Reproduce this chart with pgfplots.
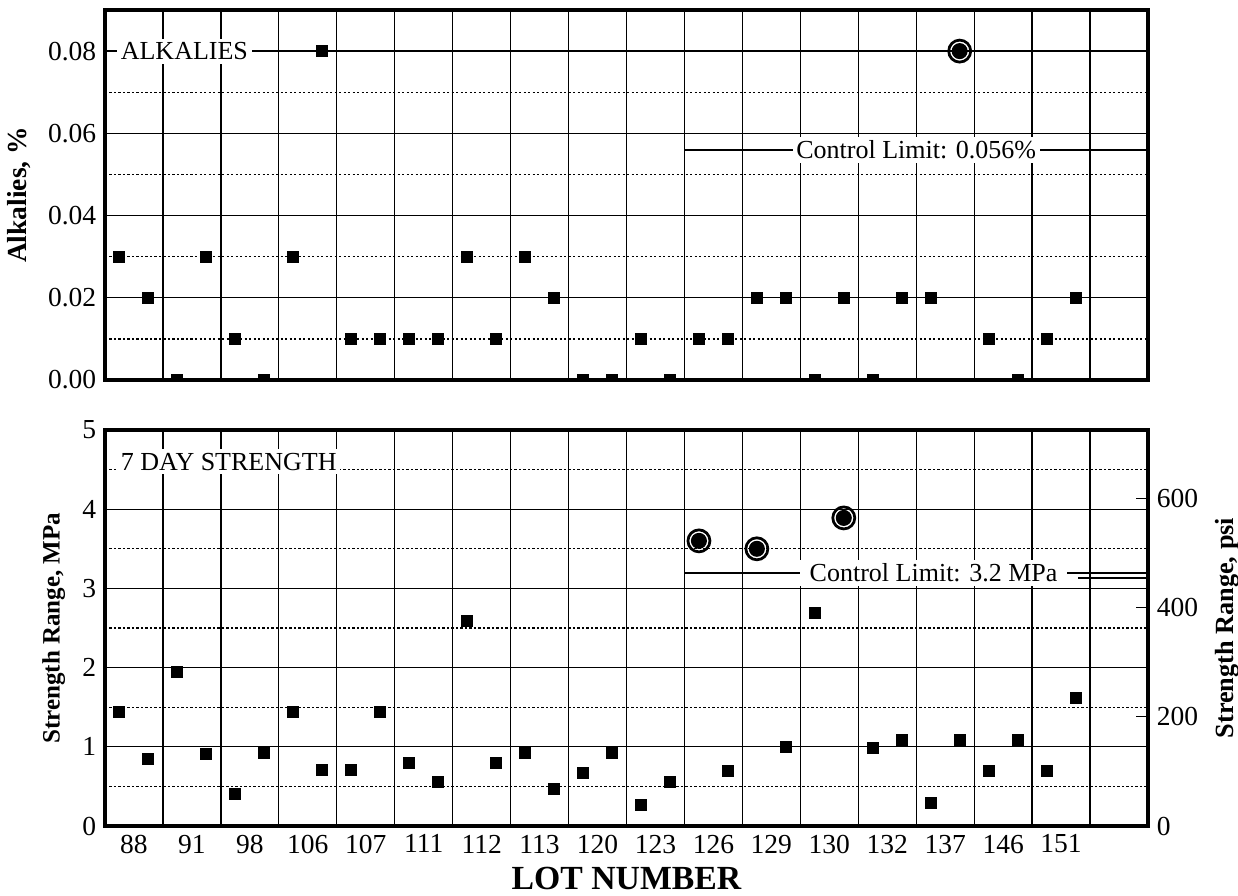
\documentclass[border=0pt]{standalone}
\usepackage{fontspec}
\setmainfont{Liberation Serif}
\usepackage{pgfplots}
\pgfplotsset{compat=1.18}

\pgfplotsset{
  panel/.style={
    scale only axis, width=417.2pt,
    xmin=0, xmax=18,
    axis line style={line width=1.4pt},
    major tick length=0pt, minor tick length=0pt,
    xtick={0.5,1.5,...,16.5},
    minor xtick={1,2,...,17},
    xminorgrids=true, ymajorgrids=true, yminorgrids=true,
    minor x grid style={black, line width=0.5pt},
    major y grid style={black, line width=0.5pt},
    minor y grid style={black, line width=0.55pt, dash pattern=on 0.9pt off 0.9pt},
    /pgf/number format/assume math mode=true,
    tick label style={font=\fontsize{11}{13}\selectfont},
    label style={font=\fontsize{10}{12}\selectfont\bfseries},
    scaled y ticks=false,
    clip marker paths=true,
  },
  sq/.style={only marks, mark=square*, mark size=2.2pt, black},
  ring/.style={only marks, mark=o, mark size=4.4pt, black, line width=1.1pt},
  dot/.style={only marks, mark=*, mark size=3.0pt, black},
}
\tikzset{lbl/.style={fill=white, inner sep=1.5pt, font=\fontsize{10.4}{12}\selectfont}}

\begin{document}
\begin{tikzpicture}
\useasboundingbox (-42pt,-354.4pt) rectangle (453.2pt,4pt);

% alkalies panel
\begin{axis}[panel, name=top, at={(0,0)}, anchor=north west, height=148pt,
  ymin=0, ymax=0.09,
  ytick={0,0.02,0.04,0.06,0.08}, minor ytick={0.01,0.03,0.05,0.07},
  yticklabel style={/pgf/number format/.cd, fixed, fixed zerofill, precision=2},
  xticklabels={},
  ylabel={Alkalies, \%},
  ylabel style={font=\fontsize{11}{13}\selectfont\bfseries}]
\addplot[sq] coordinates {
  (0.25,0.03) (0.75,0.02) (1.25,0.00) (1.75,0.03) (2.25,0.01) (2.75,0.00)
  (3.25,0.03) (3.75,0.08) (4.25,0.01) (4.75,0.01) (5.25,0.01) (5.75,0.01)
  (6.25,0.03) (6.75,0.01) (7.25,0.03) (7.75,0.02) (8.25,0.00) (8.75,0.00)
  (9.25,0.01) (9.75,0.00) (10.25,0.01) (10.75,0.01) (11.25,0.02) (11.75,0.02)
  (12.25,0.00) (12.75,0.02) (13.25,0.00) (13.75,0.02) (14.25,0.02)
  (15.25,0.01) (15.75,0.00) (16.25,0.01) (16.75,0.02)
};
\addplot[black, line width=0.8pt] coordinates {(10,0.056) (18,0.056)};
\addplot[ring] coordinates {(14.75,0.08)};
\addplot[dot] coordinates {(14.75,0.08)};
\node[lbl, anchor=west] at (axis cs:0.2,0.08) {ALKALIES};
\node[lbl] at (axis cs:14.0,0.056) {Control Limit: 0.056\%};
\end{axis}

% 7 day strength panel
\begin{axis}[panel, name=bot, at={(0,-168pt)}, anchor=north west, height=158.4pt,
  ymin=0, ymax=5,
  ytick={0,1,2,3,4,5}, minor ytick={0.5,1.5,2.5,3.5,4.5},
  xticklabels={88,91,98,106,107,111,112,113,120,123,126,129,130,132,137,146,151},
  xlabel={LOT NUMBER},
  xlabel style={font=\fontsize{13.5}{15}\selectfont\bfseries,
    at={(axis description cs:0.5,0)}, anchor=north, yshift=-13pt},
  ylabel={Strength Range, MPa}]
\addplot[sq] coordinates {
  (0.25,1.44) (0.75,0.85) (1.25,1.95) (1.75,0.91) (2.25,0.41) (2.75,0.92)
  (3.25,1.44) (3.75,0.71) (4.25,0.71) (4.75,1.44) (5.25,0.79) (5.75,0.56)
  (6.25,2.59) (6.75,0.79) (7.25,0.92) (7.75,0.47) (8.25,0.67) (8.75,0.92)
  (9.25,0.26) (9.75,0.55) (10.75,0.70) (11.75,1.00) (12.25,2.69)
  (13.25,0.99) (13.75,1.09) (14.25,0.29) (14.75,1.09) (15.25,0.69)
  (15.75,1.09) (16.25,0.69) (16.75,1.61)
};
\addplot[black, line width=0.8pt] coordinates {(10,3.2) (18,3.2)};
\addplot[black, line width=0.6pt] coordinates {(16.8,3.13) (18,3.13)};
\addplot[ring] coordinates {(10.25,3.60) (11.25,3.50) (12.75,3.89)};
\addplot[dot] coordinates {(10.25,3.60) (11.25,3.50) (12.75,3.89)};
\node[lbl, anchor=west] at (axis cs:0.2,4.6) {7 DAY STRENGTH};
\node[lbl, inner xsep=4pt] at (axis cs:14.3,3.2) {Control Limit: 3.2 MPa};
\end{axis}

% psi scale on the right
\begin{axis}[scale only axis, width=417.2pt, height=158.4pt,
  at={(0,-168pt)}, anchor=north west,
  xmin=0, xmax=18, ymin=0, ymax=725.2,
  axis x line=none, axis y line*=right,
  axis line style={line width=1.4pt},
  ytick={0,200,400,600}, tick align=inside, major tick length=5pt,
  tick style={black, line width=0.5pt},
  /pgf/number format/assume math mode=true,
  tick label style={font=\fontsize{11}{13}\selectfont},
  label style={font=\fontsize{10.5}{12}\selectfont\bfseries},
  ylabel={Strength Range, psi}]
\end{axis}
\end{tikzpicture}
\end{document}
